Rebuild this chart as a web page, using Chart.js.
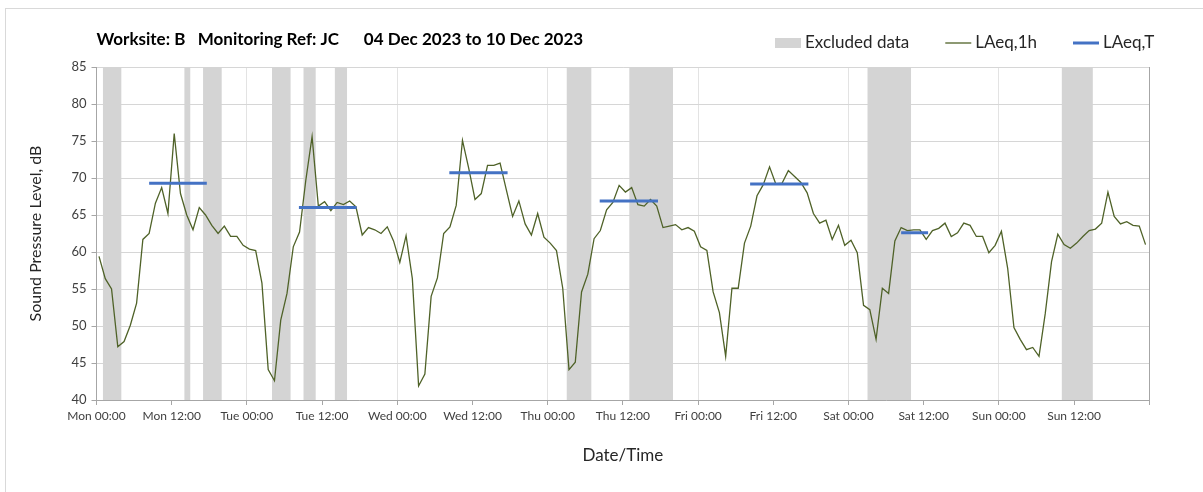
<!DOCTYPE html>
<html>
<head>
<meta charset="utf-8">
<script src="https://cdn.jsdelivr.net/npm/chart.js@4/dist/chart.umd.min.js"></script>
<style>
  html, body { margin: 0; padding: 0; background: #fff; overflow: hidden; }
  #wrap { position: relative; width: 1203px; height: 492px; }
  #frame { position: absolute; left: 5px; top: 8px; width: 1300px; height: 600px; border: 1px solid #d9d9d9; }
  #chart { position: absolute; left: 0; top: 0; }
</style>
</head>
<body>
<div id="wrap">
  <div id="frame"></div>
  <canvas id="chart" width="1203" height="492"></canvas>
</div>
<script>
// Noise monitoring chart - Worksite B, week 04-10 Dec 2023

const TITLE = "Worksite: B   Monitoring Ref: JC      04 Dec 2023 to 10 Dec 2023";
const DAYS = ["Mon", "Tue", "Wed", "Thu", "Fri", "Sat", "Sun"];
const HOUR_LABELS = ["00:00", "12:00"];
const Y_MIN = 40, Y_MAX = 85, Y_STEP = 5;
const X_MAX = 168; // hours in the week

// hourly LAeq,1h (one value per hour, Mon 00:00 onwards)
const POINT_OFFSET = 0.4;
const laeq1h = [
  59.4, 56.4, 55.0, 47.2, 47.9, 50.1, 53.1, 61.7, 62.5, 66.6, 68.7, 65.2,
  76.0, 67.9, 65.0, 63.0, 66.0, 65.0, 63.6, 62.5, 63.5, 62.1, 62.1, 60.9,
  60.4, 60.2, 55.8, 44.1, 42.6, 50.8, 54.4, 60.7, 62.7, 69.7, 75.6, 66.2,
  66.8, 65.6, 66.7, 66.4, 66.9, 66.1, 62.3, 63.3, 63.0, 62.5, 63.4, 61.5,
  58.6, 62.2, 56.4, 41.9, 43.5, 54.0, 56.5, 62.5, 63.4, 66.3, 75.1, 71.3,
  67.1, 67.9, 71.7, 71.7, 72.0, 68.4, 64.8, 66.9, 63.8, 62.3, 65.2, 62.0,
  61.2, 60.2, 55.1, 44.1, 45.1, 54.6, 57.0, 61.8, 62.9, 65.7, 66.7, 69.0,
  68.1, 68.7, 66.4, 66.2, 67.1, 66.2, 63.3, 63.5, 63.7, 63.0, 63.3, 62.8,
  60.7, 60.2, 54.6, 51.8, 45.9, 55.1, 55.1, 61.2, 63.5, 67.6, 69.1, 71.5,
  69.2, 69.3, 71.0, 70.2, 69.4, 68.0, 65.2, 63.9, 64.3, 61.7, 63.6, 60.9,
  61.6, 59.9, 52.8, 52.2, 48.2, 55.1, 54.4, 61.5, 63.3, 62.9, 63.0, 63.0,
  61.7, 62.9, 63.2, 63.9, 62.1, 62.6, 63.9, 63.6, 62.1, 62.1, 59.9, 60.9,
  62.8, 57.8, 49.8, 48.2, 46.8, 47.1, 45.9, 51.7, 58.7, 62.4, 61.0, 60.5,
  61.2, 62.1, 62.9, 63.1, 63.9, 68.1, 64.8, 63.8, 64.1, 63.6, 63.5, 61.0
];

// LAeq,T daytime periods (hours from Mon 00:00)
const laeqTStart = [8.4, 32.3, 56.3, 80.3, 104.3, 128.4];
const laeqTEnd   = [17.6, 41.5, 65.6, 89.6, 113.6, 132.7];
const laeqTValue = [69.3, 66.0, 70.7, 66.9, 69.2, 62.6];

// excluded data periods (hours from Mon 00:00)
const excludedStart = [1, 14, 17, 28, 33, 38, 75, 85, 123, 154];
const excludedEnd   = [4, 15, 20, 31, 35, 40, 79, 92, 130, 159];

const GREEN = "#4f6228";
const BLUE = "#4472c4";
const GREY_BAND = "#d4d4d4";
const AXIS_GREY = "#a6a6a6";
const FONT = "Lato, 'Open Sans', sans-serif";

const legendItems = [
  { text: "Excluded data", type: "box", color: GREY_BAND },
  { text: "LAeq,1h", type: "line", color: GREEN, width: 1.3 },
  { text: "LAeq,T", type: "line", color: BLUE, width: 3 }
];

// build datasets
const lineData = laeq1h.map((v, i) => ({ x: i + POINT_OFFSET, y: v }));

const laeqTData = [];
laeqTStart.forEach((s, i) => {
  laeqTData.push({ x: s, y: laeqTValue[i] });
  laeqTData.push({ x: laeqTEnd[i], y: laeqTValue[i] });
  laeqTData.push({ x: laeqTEnd[i] + 0.5, y: null });
});

const bandSets = excludedStart.map((s, i) => ({
  label: "Excluded data",
  data: [{ x: s, y: Y_MAX }, { x: excludedEnd[i], y: Y_MAX }],
  fill: "start",
  backgroundColor: GREY_BAND,
  borderWidth: 0,
  pointRadius: 0,
  order: 2,
  yAxisID: "y"
}));

// title + legend drawn on the canvas
const headerPlugin = {
  id: "header",
  afterDraw(chart) {
    const { ctx, chartArea } = chart;
    ctx.save();
    ctx.textBaseline = "middle";
    ctx.fillStyle = "#000";
    ctx.font = "bold 17px " + FONT;
    ctx.fillText(TITLE, chartArea.left, 40);

    ctx.font = "17px " + FONT;
    let x = 775;
    const y = 43;
    legendItems.forEach(item => {
      if (item.type === "box") {
        ctx.fillStyle = item.color;
        ctx.fillRect(x, y - 5, 26, 10);
      } else {
        ctx.strokeStyle = item.color;
        ctx.lineWidth = item.width;
        ctx.beginPath();
        ctx.moveTo(x, y);
        ctx.lineTo(x + 26, y);
        ctx.stroke();
      }
      x += 30;
      ctx.fillStyle = "#262626";
      ctx.fillText(item.text, x, y);
      x += ctx.measureText(item.text).width + 36;
    });
    ctx.restore();
  }
};

new Chart(document.getElementById("chart"), {
  type: "line",
  data: {
    datasets: [
      {
        label: "LAeq,T",
        data: laeqTData,
        borderColor: BLUE,
        borderWidth: 3,
        borderCapStyle: "butt",
        pointRadius: 0,
        spanGaps: false,
        fill: false,
        order: 0,
        yAxisID: "y"
      },
      {
        label: "LAeq,1h",
        data: lineData,
        borderColor: GREEN,
        borderWidth: 1.3,
        pointRadius: 0,
        tension: 0,
        fill: false,
        order: 1,
        yAxisID: "y"
      },
      ...bandSets
    ]
  },
  options: {
    responsive: false,
    animation: false,
    events: [],
    layout: { padding: { top: 67, left: 22, right: 12, bottom: 22 } },
    plugins: {
      legend: { display: false },
      tooltip: { enabled: false },
      title: { display: false }
    },
    scales: {
      x: {
        type: "linear",
        min: 0,
        max: X_MAX,
        afterFit: s => { s.height = 70; },
        ticks: {
          stepSize: 12,
          maxTicksLimit: 20,
          autoSkip: false,
          maxRotation: 0,
          padding: 4,
          color: "#404040",
          font: { family: FONT, size: 12 },
          callback: v => {
            if (v % 12 !== 0 || v >= X_MAX) return "";
            return DAYS[Math.floor(v / 24)] + " " + HOUR_LABELS[(v % 24) / 12];
          }
        },
        grid: {
          color: c => (c.tick && c.tick.value % 24 === 0) ? "#e3e3e3" : "rgba(0,0,0,0)",
          tickColor: AXIS_GREY,
          tickLength: 5
        },
        border: { color: AXIS_GREY },
        title: {
          display: true,
          text: "Date/Time",
          color: "#262626",
          font: { family: FONT, size: 17 }
        }
      },
      y: {
        min: Y_MIN,
        max: Y_MAX,
        afterFit: s => { s.width = 74.5; },
        ticks: {
          stepSize: Y_STEP,
          padding: 5,
          color: "#404040",
          font: { family: FONT, size: 13 }
        },
        grid: { color: "#d6d6d6", tickColor: AXIS_GREY, tickLength: 5 },
        border: { color: AXIS_GREY },
        title: {
          display: true,
          text: "Sound Pressure Level, dB",
          color: "#262626",
          font: { family: FONT, size: 16 }
        }
      },
      y2: {
        position: "right",
        min: Y_MIN,
        max: Y_MAX,
        afterFit: s => { s.width = 41.7; },
        ticks: { display: false },
        grid: { drawOnChartArea: false, drawTicks: false },
        border: { color: AXIS_GREY }
      }
    }
  },
  plugins: [headerPlugin]
});
</script>
</body>
</html>
